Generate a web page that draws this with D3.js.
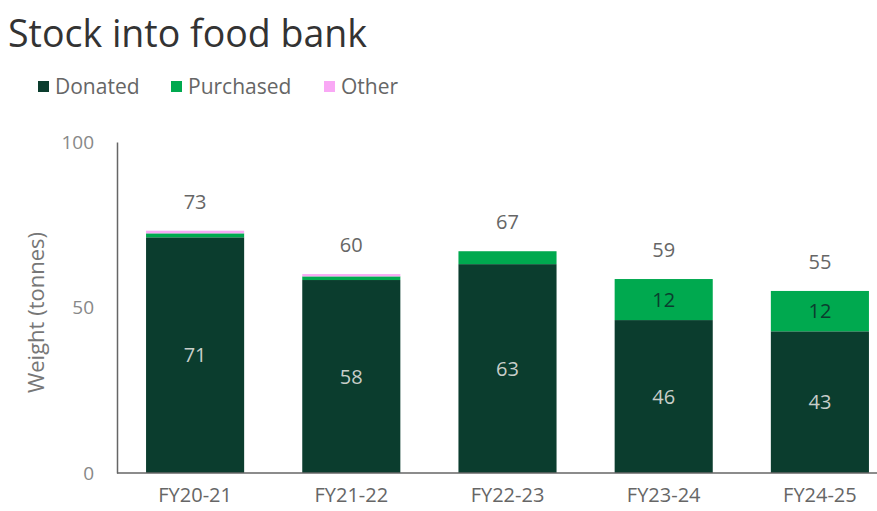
<!DOCTYPE html>
<html>
<head>
<meta charset="utf-8">
<script src="https://cdn.jsdelivr.net/npm/d3@7"></script>
<style>
  html, body { margin: 0; padding: 0; background: #fff; }
  svg { display: block; font-family: "Open Sans", "DejaVu Sans", sans-serif; }
</style>
</head>
<body>
<svg id="chart" width="877" height="511"></svg>
<script>
// Stock received by the food bank, tonnes per financial year
const years = ["FY20-21", "FY21-22", "FY22-23", "FY23-24", "FY24-25"];
const donated = [71.2, 58.3, 63.1, 46.2, 42.8];
const purchased = [1.2, 1.1, 3.9, 12.4, 12.2];
const other = [0.8, 0.7, 0, 0, 0];
const seriesNames = ["Donated", "Purchased", "Other"];
const yTicks = [0, 50, 100];

const colors = { Donated: "#0b3d2e", Purchased: "#00a94f", Other: "#f9a8f5" };

const svg = d3.select("#chart");
const W = 877, H = 511;
const margin = { left: 117, right: -21, top: 142, bottom: 38 };

const rows = years.map((y, i) => ({
  year: y, Donated: donated[i], Purchased: purchased[i], Other: other[i]
}));
const stacked = d3.stack().keys(seriesNames)(rows);

const x = d3.scaleBand()
  .domain(years)
  .range([margin.left, W - margin.right])
  .paddingInner(0.372)
  .paddingOuter(0.186);

const y = d3.scaleLinear()
  .domain([0, 100])
  .range([H - margin.bottom, margin.top]);

// Title
svg.append("text")
  .attr("x", 8).attr("y", 47)
  .attr("font-size", 37.5)
  .attr("fill", "#333")
  .text("Stock into food bank");

// Legend
const legendX = [38, 171, 324];
const legend = svg.append("g");
seriesNames.forEach((name, i) => {
  legend.append("rect")
    .attr("x", legendX[i]).attr("y", 81)
    .attr("width", 11).attr("height", 11)
    .attr("fill", colors[name]);
  legend.append("text")
    .attr("x", legendX[i] + 17).attr("y", 94)
    .attr("font-size", 21)
    .attr("fill", "#666")
    .text(name);
});

// Bars
const layers = svg.append("g").selectAll("g")
  .data(stacked)
  .join("g")
  .attr("fill", d => colors[d.key]);

layers.selectAll("rect")
  .data(d => d.filter(s => s[1] > s[0]))
  .join("rect")
  .attr("x", d => x(d.data.year))
  .attr("width", x.bandwidth())
  .attr("y", d => y(d[1]))
  .attr("height", d => y(d[0]) - y(d[1]));

// Segment labels
const donatedLayer = stacked[0], purchasedLayer = stacked[1];
svg.append("g").selectAll("text")
  .data(donatedLayer)
  .join("text")
  .attr("x", d => x(d.data.year) + x.bandwidth() / 2)
  .attr("y", d => (y(d[0]) + y(d[1])) / 2)
  .attr("dy", "0.35em")
  .attr("text-anchor", "middle")
  .attr("font-size", 20)
  .attr("fill", "#c8cec9")
  .text(d => d3.format(".0f")(d[1] - d[0]));

svg.append("g").selectAll("text")
  .data(purchasedLayer.filter(d => d[1] - d[0] >= 8))
  .join("text")
  .attr("x", d => x(d.data.year) + x.bandwidth() / 2)
  .attr("y", d => (y(d[0]) + y(d[1])) / 2)
  .attr("dy", "0.35em")
  .attr("text-anchor", "middle")
  .attr("font-size", 20)
  .attr("fill", "#0b3d2e")
  .text(d => d3.format(".0f")(d[1] - d[0]));

// Totals above each bar
const topLayer = stacked[stacked.length - 1];
svg.append("g").selectAll("text")
  .data(topLayer)
  .join("text")
  .attr("x", d => x(d.data.year) + x.bandwidth() / 2)
  .attr("y", d => y(d[1]) - 29)
  .attr("dy", "0.35em")
  .attr("text-anchor", "middle")
  .attr("font-size", 20)
  .attr("fill", "#666")
  .text(d => d3.format(".0f")(d[1]));

// Y axis
const yAxis = svg.append("g")
  .attr("transform", `translate(${margin.left},0)`)
  .call(d3.axisLeft(y).tickValues(yTicks).tickSize(0).tickPadding(23));
yAxis.select(".domain").attr("stroke", "#666").attr("stroke-width", 1.5);
yAxis.selectAll("text")
  .attr("font-size", 19)
  .attr("fill", "#888")
  .attr("font-family", "'Open Sans', sans-serif");

// X axis
const xAxis = svg.append("g")
  .attr("transform", `translate(0,${H - margin.bottom})`)
  .call(d3.axisBottom(x).tickSize(0).tickPadding(15));
xAxis.select(".domain").remove();
xAxis.append("line")
  .attr("x1", margin.left).attr("x2", W)
  .attr("stroke", "#666").attr("stroke-width", 1.5);
xAxis.selectAll("text")
  .attr("font-size", 20)
  .attr("fill", "#666")
  .attr("font-family", "'Open Sans', sans-serif");

// Y axis title
svg.append("text")
  .attr("transform", `translate(44,${(y(0) + y(100)) / 2 + 5}) rotate(-90)`)
  .attr("text-anchor", "middle")
  .attr("font-size", 22)
  .attr("fill", "#777")
  .text("Weight (tonnes)");
</script>
</body>
</html>
